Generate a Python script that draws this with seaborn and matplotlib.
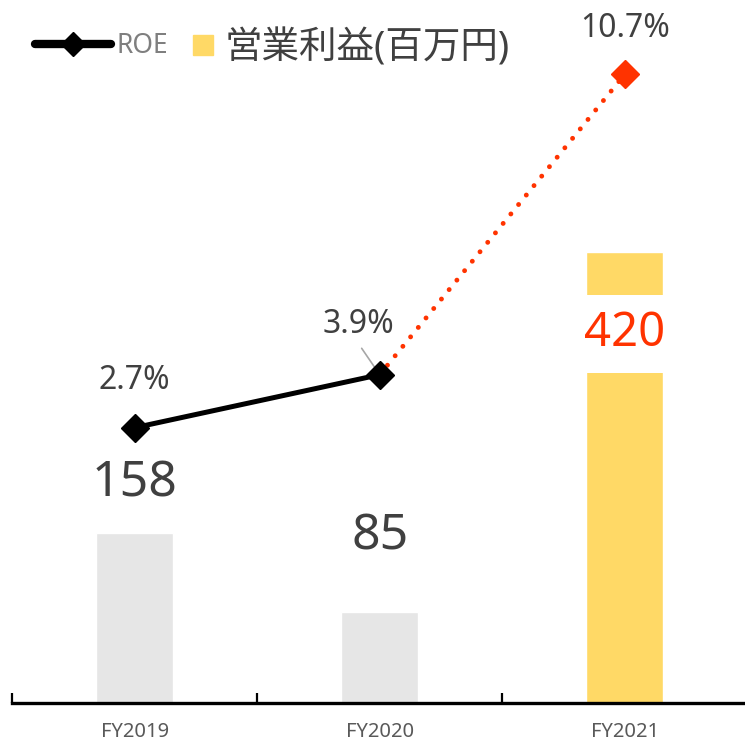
import matplotlib
matplotlib.use('Agg')
import matplotlib.pyplot as plt
from matplotlib.lines import Line2D
import seaborn as sns
import pandas as pd

# ── data ──────────────────────────────────────────────
years = ['FY2019', 'FY2020', 'FY2021']
op_profit = [158, 85, 420]          # 営業利益(百万円)
roe = [2.7, 3.9, 10.7]              # ROE (%)
roe_labels = ['2.7%', '3.9%', '10.7%']

bar_colors = ['#E6E6E6', '#E6E6E6', '#FFD966']
red = '#FF3300'
text_gray = '#404040'

sns.set_theme(style='white')
plt.rcParams['font.family'] = ['Noto Sans', 'Noto Sans CJK JP', 'DejaVu Sans']

fig = plt.figure(figsize=(7.45, 7.44), dpi=100)
ax = fig.add_axes([12 / 745, 41 / 744, 733 / 745, 703 / 744])

df = pd.DataFrame({'year': years, 'profit': op_profit})
sns.barplot(data=df, x='year', y='profit', hue='year', palette=bar_colors,
            width=0.314, legend=False, ax=ax, saturation=1)

ax.set_xlim(-0.5, 2.49)
ax.set_ylim(0, 654.6)
ax.set_xlabel('')
ax.set_ylabel('')
ax.set_yticks([])
for s in ['top', 'right', 'left']:
    ax.spines[s].set_visible(False)
ax.spines['bottom'].set_linewidth(2.4)
ax.spines['bottom'].set_color('black')

# boundaries ticks + centered labels
ax.set_xticks([-0.5, 0.5, 1.5], minor=False)
ax.set_xticklabels([])
ax.tick_params(axis='x', which='major', direction='in', length=7, width=1.6,
               color='black', bottom=True)
ax.set_xticks([0, 1, 2], minor=True)
ax.set_xticklabels(years, minor=True)
ax.tick_params(axis='x', which='minor', length=0, pad=14, labelsize=14.5,
               labelcolor='#595959')

# bar value labels
profit_offsets = [(0, 36), (0, 54)]
for i, v in enumerate(op_profit[:2]):
    ax.annotate(str(v), (i, v), xytext=profit_offsets[i], textcoords='offset points',
                ha='center', va='center', fontsize=36, color=text_gray)
ax.annotate(str(op_profit[2]), (2, op_profit[2]), xytext=(0, -59),
            textcoords='offset points', ha='center', va='center', fontsize=34,
            color=red,
            bbox=dict(boxstyle='square,pad=0.33', fc='white', ec='none'))

# ROE on secondary axis
ax2 = ax.twinx()
ax2.set_ylim(-3.53, 12.38)
ax2.set_yticks([])
for s in ax2.spines.values():
    s.set_visible(False)

ax2.plot([1, 2], roe[1:], color=red, lw=3.5, linestyle=(0, (0.01, 2.5)),
         dash_capstyle='round', zorder=3)
ax2.plot([0, 1], roe[:2], color='black', lw=3.6, marker='D', ms=14,
         solid_capstyle='round', zorder=4)
ax2.plot([2], roe[2:], color=red, lw=0, marker='D', ms=14, zorder=4)

roe_offsets = [(0, 34), (-15, 36), (0, 33)]
for i, (v, lab) in enumerate(zip(roe, roe_labels)):
    ax2.annotate(lab, (i, v), xytext=roe_offsets[i], textcoords='offset points',
                 ha='center', va='center', fontsize=23, color=text_gray)
# leader line for 3.9%
ax2.annotate('', (1, roe[1]), xytext=(-13, 19), textcoords='offset points',
             arrowprops=dict(arrowstyle='-', color='#A6A6A6', lw=1.2,
                             shrinkA=0, shrinkB=2))

# legends (two, so each text can keep its own size)
h_roe = Line2D([], [], color='black', lw=6, marker='D', ms=12,
               solid_capstyle='round')
leg1 = ax.legend([h_roe], ['ROE'], loc='center left',
                 bbox_to_anchor=(0.031, 0.9346), frameon=False,
                 fontsize=19, handlelength=2.9, handletextpad=0.2,
                 borderpad=0, borderaxespad=0)
leg1.get_texts()[0].set_color('#7F7F7F')
ax.add_artist(leg1)

h_op = Line2D([], [], color='#FFD966', lw=0, marker='s', ms=15)
leg2 = ax.legend([h_op], ['営業利益(百万円)'], loc='center left',
                 bbox_to_anchor=(0.247, 0.9317), frameon=False,
                 fontsize=27, handlelength=0.55, handletextpad=0.3,
                 borderpad=0, borderaxespad=0)
leg2.get_texts()[0].set_color(text_gray)

fig.savefig('out.png', dpi=100)
